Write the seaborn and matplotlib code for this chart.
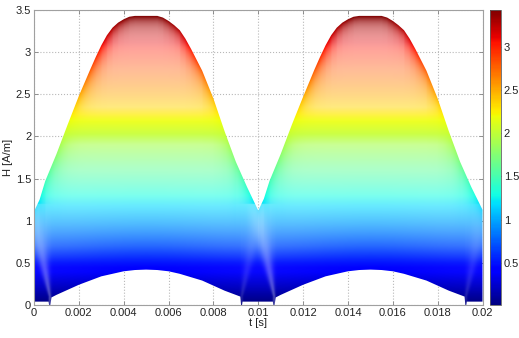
import numpy as np
import matplotlib
matplotlib.use("Agg")
import matplotlib.pyplot as plt
import matplotlib.cm as cm
from matplotlib.colors import Normalize
import seaborn as sns

# ---- data ----
t_upper = [0.0, 0.00025, 0.0005, 0.001, 0.0015, 0.002, 0.0025, 0.00275, 0.003, 0.00325,
           0.0035, 0.00375, 0.004, 0.00425, 0.0045, 0.005, 0.0055, 0.00575, 0.006,
           0.00625, 0.0065, 0.00675, 0.007, 0.0075, 0.008, 0.0085, 0.009, 0.0095,
           0.01, 0.01025, 0.0105, 0.011, 0.0115, 0.012, 0.0125, 0.01275, 0.013, 0.01325,
           0.0135, 0.01375, 0.014, 0.01425, 0.0145, 0.015, 0.0155, 0.01575, 0.016,
           0.01625, 0.0165, 0.01675, 0.017, 0.0175, 0.018, 0.0185, 0.019, 0.0195, 0.02]
h_upper = [1.11, 1.25, 1.47, 1.79, 2.14, 2.48, 2.79, 2.94, 3.08, 3.20,
           3.29, 3.35, 3.39, 3.42, 3.43, 3.43, 3.43, 3.41, 3.37,
           3.32, 3.26, 3.16, 3.04, 2.78, 2.45, 2.06, 1.70, 1.40,
           1.12, 1.26, 1.47, 1.79, 2.14, 2.47, 2.79, 2.94, 3.08, 3.20,
           3.29, 3.35, 3.39, 3.42, 3.43, 3.43, 3.43, 3.41, 3.37,
           3.32, 3.26, 3.16, 3.04, 2.78, 2.45, 2.06, 1.70, 1.40, 1.13]

t_lower = [0.0, 0.00065, 0.0007, 0.00078, 0.001, 0.0015, 0.002, 0.0025, 0.003, 0.0035,
           0.004, 0.0045, 0.005, 0.0055, 0.006, 0.0065, 0.007, 0.0075, 0.008, 0.0085,
           0.009, 0.0092, 0.00925, 0.0093, 0.01,
           0.01065, 0.0107, 0.01078, 0.011, 0.0115, 0.012, 0.0125, 0.013, 0.0135,
           0.014, 0.0145, 0.015, 0.0155, 0.016, 0.0165, 0.017, 0.0175, 0.018, 0.0185,
           0.019, 0.0192, 0.01925, 0.0193, 0.02]
h_lower = [0.04, 0.04, -0.05, 0.09, 0.12, 0.18, 0.24, 0.29, 0.34, 0.37,
           0.40, 0.415, 0.42, 0.415, 0.40, 0.37, 0.33, 0.29, 0.23, 0.17,
           0.12, 0.10, -0.05, 0.04, 0.04,
           0.04, -0.05, 0.09, 0.12, 0.18, 0.24, 0.29, 0.34, 0.37,
           0.40, 0.415, 0.42, 0.415, 0.40, 0.37, 0.33, 0.29, 0.23, 0.17,
           0.12, 0.10, -0.05, 0.04, 0.04]

# pale streaks rising from the notches: (notch t, apex t, strength)
streak_notch_t = [0.0007, 0.00925, 0.0107, 0.01925]
streak_apex_t = [0.0, 0.01, 0.01, 0.02]
streak_strength = [0.3, 0.12, 0.3, 0.12]

x_ticks = [0, 0.002, 0.004, 0.006, 0.008, 0.01, 0.012, 0.014, 0.016, 0.018, 0.02]
x_ticklabels = ["0", "0.002", "0.004", "0.006", "0.008", "0.01", "0.012", "0.014",
                "0.016", "0.018", "0.02"]
y_ticks = [0, 0.5, 1, 1.5, 2, 2.5, 3, 3.5]
y_ticklabels = ["0", "0.5", "1", "1.5", "2", "2.5", "3", "3.5"]
cb_ticks = [0.5, 1, 1.5, 2, 2.5, 3]
cb_ticklabels = ["0.5", "1", "1.5", "2", "2.5", "3"]
h_min, h_max = 0.01, 3.43

# ---- styling ----
sns.set_theme(style="white")
plt.rcParams["font.family"] = ["Liberation Sans", "DejaVu Sans"]
plt.rcParams["font.size"] = 8

W, H = 519, 338
fig = plt.figure(figsize=(W / 100, H / 100), dpi=100)
ax = fig.add_axes([34 / W, 33 / H, (482.5 - 34) / W, 295 / H])

# region polygon (upper edge forward, lower edge backward)
poly_t = np.concatenate([t_upper, t_lower[::-1]])
poly_h = np.concatenate([h_upper, h_lower[::-1]])
patch = ax.fill(poly_t, poly_h, facecolor="none", edgecolor="none")[0]

# colour field = H value, with whitish translucency, clipped to the region
tg = np.linspace(0, 0.02, 1000)
hg = np.linspace(-0.1, 3.5, 800)
TT, HH = np.meshgrid(tg, hg)
extent = [0, 0.02, -0.1, 3.5]
cmap = plt.get_cmap("jet")
norm = Normalize(vmin=h_min, vmax=h_max)
base = cmap(norm(HH))

px_t = 448.5 / 0.02
px_h = 295 / 3.5
up1 = np.interp(tg, t_upper, h_upper)
slope = np.gradient(up1, tg) * px_h / px_t
up = up1[None, :]
lo = np.interp(tg, t_lower, h_lower)[None, :]
d_up_px = np.clip(up - HH, 0, None) * px_h / np.sqrt(1 + slope[None, :] ** 2)
d_lo_px = np.clip(HH - lo, 0, None) * px_h
A = np.interp(HH, [0, 0.5, 0.7, 0.9, 1.2, 1.6, 1.9, 2.03, 2.18, 2.35, 2.8, 3.2, 3.5],
              [0.0, 0.05, 0.25, 0.35, 0.45, 0.5, 0.4, 0.1, 0.1, 0.5, 0.6, 0.62, 0.62])
alpha = A * (1 - np.exp(-d_up_px / 7)) * (1 - np.exp(-d_lo_px / 25))

for tn, ta, st in zip(streak_notch_t, streak_apex_t, streak_strength):
    s = np.clip((HH - 0.1) / 1.0, 0, None)
    tc = tn + (ta - tn) * s
    w = 0.00006 + 0.0004 * s
    boost = st * np.exp(-((TT - tc) / w) ** 2) * (s <= 1.1)
    alpha = 1 - (1 - alpha) * (1 - boost)

alpha = np.clip(alpha, 0, 0.85)[..., None]
rgba = base.copy()
rgba[..., :3] = base[..., :3] * (1 - alpha) + alpha
im = ax.imshow(rgba, origin="lower", extent=extent, aspect="auto",
               interpolation="bilinear", zorder=1)
im.set_clip_path(patch)

ax.set_xlim(0, 0.02)
ax.set_ylim(0, 3.5)
ax.set_xticks(x_ticks)
ax.set_xticklabels(x_ticklabels)
ax.set_yticks(y_ticks)
ax.set_yticklabels(y_ticklabels)
ax.grid(True, linestyle=":", color="#b8b8b8", linewidth=0.8, zorder=0.5)
ax.tick_params(direction="in", length=3, width=0.6, color="#808080",
               labelsize=8, pad=2, labelcolor="#222222",
               bottom=True, left=True, top=True, right=True,
               labeltop=False, labelright=False)
for s in ax.spines.values():
    s.set_color("#a0a0a0")
    s.set_linewidth(0.8)
ax.set_xlabel("t [s]", fontsize=8, labelpad=0, color="#222222")
ax.set_ylabel("H [A/m]", fontsize=8, labelpad=2, color="#222222")

cax = fig.add_axes([490 / W, 33 / H, 11 / W, 295 / H])
sm = cm.ScalarMappable(norm=norm, cmap=cmap)
cb = fig.colorbar(sm, cax=cax, ticks=cb_ticks)
cb.set_ticklabels(cb_ticklabels)
cb.ax.tick_params(labelsize=8, direction="in", length=2, width=0.6, pad=2,
                  color="#606060", labelcolor="#222222")
cb.outline.set_edgecolor("#606060")
cb.outline.set_linewidth(0.6)

fig.savefig("out.png", dpi=100)
